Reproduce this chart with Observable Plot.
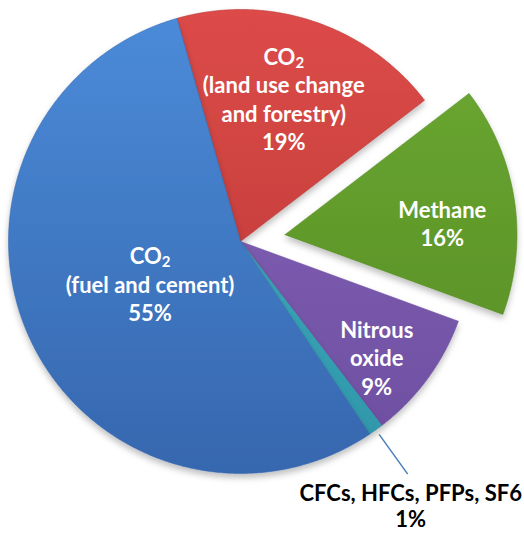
<!DOCTYPE html>
<html><head><meta charset="utf-8">
<script src="https://cdn.jsdelivr.net/npm/d3@7"></script>
<script src="https://cdn.jsdelivr.net/npm/@observablehq/plot@0.6"></script>
<style>body{margin:0;background:#fff}</style>
</head><body><div id="chart"></div>
<script>
// ---- data ----
const keys = ["landuse", "methane", "nitrous", "cfcs", "fuel"];
const names = ["CO₂\n(land use change\nand forestry)", "Methane", "Nitrous\noxide", "CFCs, HFCs, PFPs, SF6", "CO₂\n(fuel and cement)"];
const shares = [19, 16, 9, 1, 55];
const pctLabels = ["19%", "16%", "9%", "1%", "55%"];

// ---- style / layout ----
const topColors = ["#dc4b48", "#6caa33", "#8a68bd", "#48b9ca", "#4b8bd9"];
const bottomColors = ["#b73634", "#558a23", "#6c4d9f", "#2d95a8", "#3667ae"];
const W = 524, H = 538, cx = 240, cy = 241, R = 232;
const startDeg = -15.9;
const explode = [0, 45 / R, 0, 0, 0];
const labelR = [0.645, 0.68, 0.77, null, 0.43];
const labelDA = [-1.5, 4.4, 4, 0, 0];

const total = d3.sum(shares);
const toRad = Math.PI / 180;
let acc = startDeg;
const slices = shares.map((v, i) => {
  const a0 = acc, a1 = acc + v / total * 360; acc = a1;
  const mid = (a0 + a1) / 2;
  const ox = explode[i] * Math.sin(mid * toRad), oy = explode[i] * Math.cos(mid * toRad);
  return {key: keys[i], i, a0, a1, mid, ox, oy};
});
function polygon(s) {
  const pts = [{x: s.ox, y: s.oy}];
  const n = Math.max(2, Math.ceil((s.a1 - s.a0) / 0.5));
  for (let k = 0; k <= n; k++) {
    const a = (s.a0 + (s.a1 - s.a0) * k / n) * toRad;
    pts.push({x: s.ox + Math.sin(a), y: s.oy + Math.cos(a)});
  }
  pts.push({x: s.ox, y: s.oy});
  return pts;
}
const labels = slices.filter(s => labelR[s.i] != null).map(s => {
  const a = (s.mid + labelDA[s.i]) * toRad, r = labelR[s.i];
  return {x: s.ox + r * Math.sin(a), y: s.oy + r * Math.cos(a), text: names[s.i] + "\n" + pctLabels[s.i]};
});
const cf = slices[3];
const leader = [{x1: 1.024 * Math.sin(cf.mid * toRad), y1: 1.024 * Math.cos(cf.mid * toRad),
                 x2: 1.235 * Math.sin(cf.mid * toRad), y2: 1.235 * Math.cos(cf.mid * toRad)}];
const outLabel = [{x: leader[0].x2, y: leader[0].y2, text: names[3] + "\n" + pctLabels[3]}];

const marks = slices.map(s => Plot.line(polygon(s), {
  x: "x", y: "y", fill: `url(#grad-${s.key})`, stroke: bottomColors[s.i], strokeWidth: 0.8, strokeOpacity: 0.7
}));
marks.push(Plot.link(leader, {x1: "x1", y1: "y1", x2: "x2", y2: "y2", stroke: "#4a7ebb", strokeWidth: 1.5}));
marks.push(Plot.text(labels, {x: "x", y: "y", text: "text", fill: "white", fontSize: 22, fontWeight: "bold",
  fontFamily: "Lato", lineHeight: 1.3}));
marks.push(Plot.text(outLabel, {x: "x", y: "y", text: "text", fill: "black", fontSize: 22, fontWeight: "bold",
  fontFamily: "Lato", lineHeight: 1.2, lineAnchor: "top", dx: 3, dy: 8}));

const plot = Plot.plot({
  width: W, height: H, margin: 0,
  x: {domain: [-cx / R, (W - cx) / R], range: [0, W], axis: null},
  y: {domain: [-(H - cy) / R, cy / R], range: [H, 0], axis: null},
  style: {background: "white", overflow: "visible"},
  marks
});

// gradients + shadow
const svg = d3.select(plot);
const defs = svg.insert("defs", ":first-child");
slices.forEach(s => {
  const g = defs.append("linearGradient").attr("id", `grad-${s.key}`)
    .attr("gradientUnits", "userSpaceOnUse").attr("x1", 0).attr("x2", 0).attr("y1", cy - R).attr("y2", cy + R);
  g.append("stop").attr("offset", "0%").attr("stop-color", topColors[s.i]);
  g.append("stop").attr("offset", "100%").attr("stop-color", bottomColors[s.i]);
});
const f = defs.append("filter").attr("id", "shadow").attr("x", "-10%").attr("y", "-10%").attr("width", "120%").attr("height", "130%");
f.append("feDropShadow").attr("dx", 0).attr("dy", 4).attr("stdDeviation", 3).attr("flood-color", "#000").attr("flood-opacity", 0.25);
svg.selectAll("g[aria-label='line']").attr("filter", "url(#shadow)");
// subscript 2 in CO₂
svg.selectAll("tspan").each(function() {
  const t = d3.select(this);
  if (t.text() === "CO₂") {
    t.text("CO");
    t.append("tspan").attr("baseline-shift", "-22%").attr("font-size", "15").text("2");
  }
});
document.getElementById("chart").append(plot);
</script>
</body></html>
